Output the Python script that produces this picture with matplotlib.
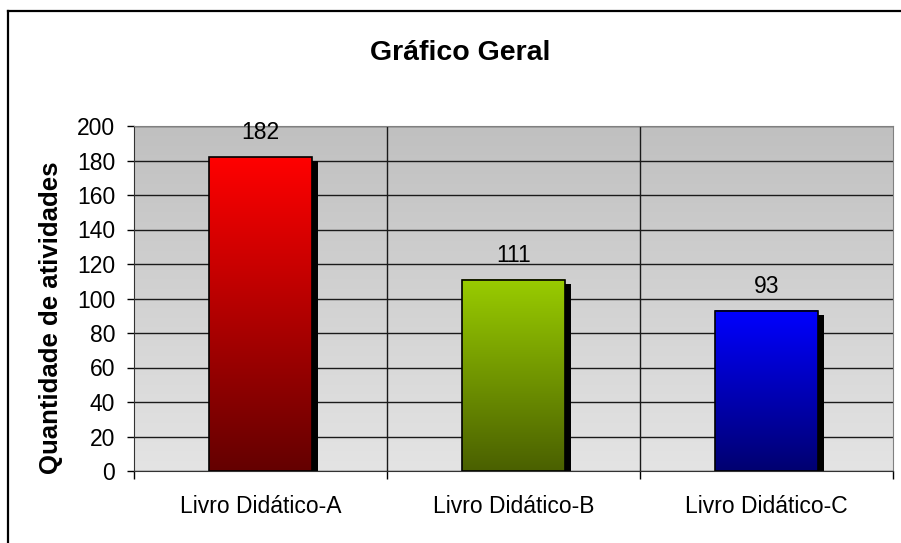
import numpy as np
import matplotlib
matplotlib.use("Agg")
import matplotlib.pyplot as plt
from matplotlib.colors import LinearSegmentedColormap
from matplotlib.patches import Rectangle
from matplotlib.lines import Line2D

plt.rcParams['font.family'] = ['Liberation Sans', 'DejaVu Sans']

categories = ["Livro Didático-A", "Livro Didático-B", "Livro Didático-C"]
values = [182, 111, 93]
top_colors = ["#ff0000", "#99cc00", "#0000ff"]
bottom_colors = ["#640000", "#4a6000", "#000070"]
yticks = list(range(0, 201, 20))

fig = plt.figure(figsize=(9.01, 5.43), dpi=100)
fig.patch.set_facecolor("white")
ax = fig.add_axes([134/901, 72/543, (893-134)/901, (471-126)/543])

n = len(categories)
ax.set_xlim(0, n)
ax.set_ylim(0, 200)

# background gradient
grad = np.linspace(0, 1, 256).reshape(-1, 1)
bg_cmap = LinearSegmentedColormap.from_list("bg", ["#e4e4e4", "#c0c0c0"])
ax.imshow(grad, extent=(0, n, 0, 200), origin="lower", aspect="auto",
          cmap=bg_cmap, zorder=0)

# grid
for y in yticks:
    ax.axhline(y, color="#1a1a1a", lw=1.0, zorder=1)
for x in range(1, n):
    ax.axvline(x, color="#1a1a1a", lw=1.0, zorder=1)

bw = 0.407
px_x = n / (893 - 134)
px_y = 200 / (471 - 126)
for i, (v, tc, bc) in enumerate(zip(values, top_colors, bottom_colors)):
    x0 = i + 0.5 - bw / 2
    x1 = i + 0.5 + bw / 2
    # shadow
    ax.add_patch(Rectangle((x0 + 6 * px_x, 0), bw, v - 4 * px_y,
                           facecolor="black", edgecolor="none", zorder=2))
    cmap = LinearSegmentedColormap.from_list(f"b{i}", [bc, tc])
    ax.imshow(grad, extent=(x0, x1, 0, v), origin="lower", aspect="auto",
              cmap=cmap, zorder=3)
    ax.add_patch(Rectangle((x0, 0), bw, v, facecolor="none",
                           edgecolor="black", lw=1.2, zorder=4))
    ax.annotate(str(v), xy=(i + 0.5, v), xytext=(0, 18),
                textcoords="offset pixels", ha="center", va="baseline",
                fontsize=16.5, color="black", zorder=5)

ax.set_xlim(0, n)
ax.set_ylim(0, 200)
ax.set_yticks(yticks)
ax.set_yticklabels([str(t) for t in yticks], fontsize=16.5)
ax.set_xticks([i + 0.5 for i in range(n)])
ax.set_xticklabels(categories, fontsize=16.5)
ax.tick_params(axis="x", length=0, pad=17.5)
ax.tick_params(axis="y", direction="out", length=5, width=1, pad=8.6)
# category boundary ticks on x axis
ax.set_xticks(list(range(0, n + 1)), minor=True)
ax.tick_params(axis="x", which="minor", direction="out", length=6, width=1)

for s in ["top", "right"]:
    ax.spines[s].set_color("#808080")
for s in ["left", "bottom"]:
    ax.spines[s].set_color("#333333")

ax.set_ylabel("Quantidade de atividades", fontsize=18.5, fontweight="bold")
ax.yaxis.set_label_coords((63 - 134) / 759, (471 - 318) / 345)

fig.text(460 / 901, 1 - 60/543, "Gráfico Geral",
         ha="center", va="baseline", fontsize=20.5, fontweight="bold")

# outer chart border (top and left visible)
fig.add_artist(Line2D([8/901, 8/901], [0, 1 - 11/543], transform=fig.transFigure,
                      color="black", lw=1.6))
fig.add_artist(Line2D([8/901, 1], [1 - 11/543, 1 - 11/543], transform=fig.transFigure,
                      color="black", lw=1.6))

fig.savefig("out.png", dpi=100)
